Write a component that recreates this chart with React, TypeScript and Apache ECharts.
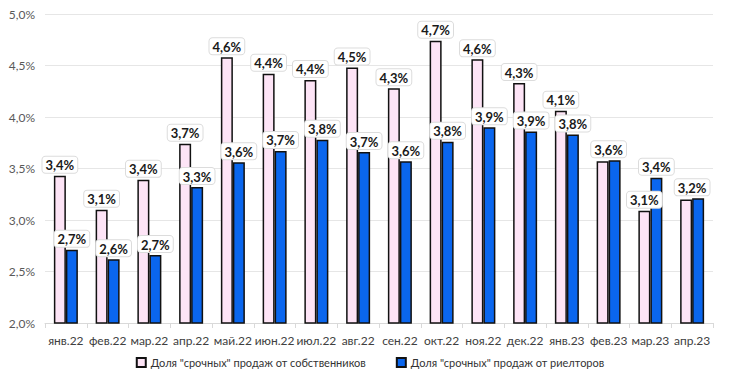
import React, { useEffect, useRef } from "react";
import * as echarts from "echarts";

const categories = ["янв.22","фев.22","мар.22","апр.22","май.22","июн.22","июл.22","авг.22","сен.22","окт.22","ноя.22","дек.22","янв.23","фев.23","мар.23","апр.23"];
const ownersShare = [3.43,3.10,3.39,3.74,4.58,4.42,4.36,4.48,4.28,4.74,4.56,4.33,4.06,3.57,3.09,3.20];
const realtorsShare = [2.71,2.62,2.66,3.32,3.56,3.67,3.78,3.66,3.57,3.76,3.90,3.86,3.83,3.58,3.41,3.21];
const seriesNames = ['Доля "срочных" продаж от собственников', 'Доля "срочных" продаж от риелторов'];

const FONT = "Lato, 'Open Sans', sans-serif";
const fmt = (v: number) => v.toFixed(1).replace(".", ",") + "%";

export default function App() {
  const ref = useRef<HTMLDivElement>(null);
  useEffect(() => {
    if (!ref.current) return;
    const chart = echarts.init(ref.current, undefined, { renderer: "svg" });
    const label = {
      show: true,
      position: "top",
      distance: 3,
      formatter: (p: any) => fmt(p.value),
      fontFamily: FONT,
      fontWeight: "bold",
      fontSize: 13,
      color: "#1a1a1a",
      backgroundColor: "#ffffff",
      borderColor: "#dcdcdc",
      borderWidth: 1,
      borderRadius: 3,
      padding: [2, 3, 1, 3],
    };
    // when both labels of a month read the same, only one shows, centred on the month
    const same = categories.map((_, i) => fmt(ownersShare[i]) === fmt(realtorsShare[i]));
    const ownersData = ownersShare.map((v, i) =>
      same[i] ? { value: v, label: { show: false } } : v
    );
    const realtorsData = realtorsShare.map((v, i) =>
      same[i] ? { value: v, label: { offset: [-6, 0] } } : v
    );
    chart.setOption({
      animation: false,
      textStyle: { fontFamily: FONT },
      grid: { left: 45, right: 27, top: 14, bottom: 57 },
      legend: {
        bottom: 7,
        left: "center",
        itemWidth: 9,
        itemHeight: 9,
        itemGap: 30,
        icon: "rect",
        textStyle: { fontSize: 11, color: "#333", fontFamily: FONT },
        data: seriesNames,
      },
      xAxis: {
        type: "category",
        data: categories,
        axisLine: { lineStyle: { color: "#d9d9d9" } },
        axisTick: { show: true, lineStyle: { color: "#d9d9d9" }, length: 5 },
        axisLabel: { color: "#404040", fontSize: 12, margin: 11, interval: 0, fontFamily: FONT },
      },
      yAxis: {
        type: "value",
        min: 2,
        max: 5,
        interval: 0.5,
        axisLabel: {
          color: "#595959",
          fontSize: 12,
          margin: 10,
          fontFamily: FONT,
          formatter: (v: number) => fmt(v),
        },
        splitLine: { lineStyle: { color: "#e6e6e6" } },
        axisLine: { show: false },
        axisTick: { show: false },
      },
      series: [
        {
          name: seriesNames[0],
          type: "bar",
          data: ownersData,
          barWidth: 12,
          barGap: "0%",
          itemStyle: { color: "#fde4f6", borderColor: "#111", borderWidth: 1.5 },
          label,
        },
        {
          name: seriesNames[1],
          type: "bar",
          data: realtorsData,
          barWidth: 12,
          itemStyle: { color: "#0a66ee", borderColor: "#111", borderWidth: 1.5 },
          label,
        },
      ],
    });
    return () => chart.dispose();
  }, []);
  return <div ref={ref} style={{ width: 740, height: 380, position: "absolute", left: 0, top: 0, background: "#fff" }} />;
}
